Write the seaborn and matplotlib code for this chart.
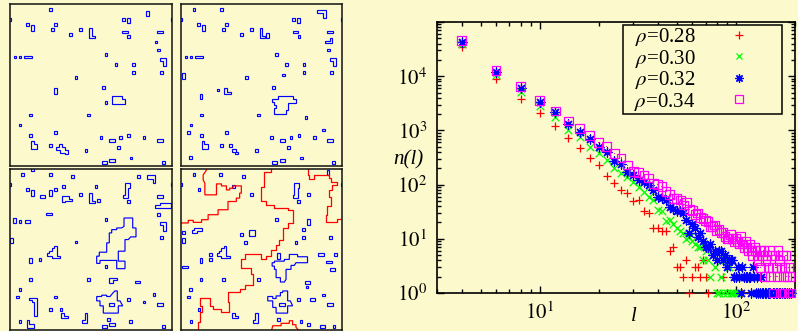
import numpy as np
import matplotlib
matplotlib.use("Agg")
import matplotlib.pyplot as plt
import seaborn as sns
from matplotlib.patches import Rectangle, Polygon
from matplotlib.lines import Line2D
from matplotlib.ticker import LogLocator, FuncFormatter, NullFormatter

BG = '#fcfacd'
BLUE = '#0000ff'
RED = '#ff0000'

# ---------------- n(l) data ----------------
l_028 = [4, 6, 8, 10, 12, 14, 16, 18, 20, 22, 24, 26, 28, 30, 32, 34, 36, 38, 40, 42, 44,
         46, 48, 50, 52, 54, 56, 58, 60, 62, 64, 66, 68, 70, 72, 86, 108]
n_028 = [34000, 8700, 3800, 2070, 1200, 730, 470, 310, 230, 145, 105, 81, 71, 50, 52, 32, 30, 16, 16, 14, 14,
         6, 7, 3, 3, 2, 4, 1, 2, 3, 3, 2, 4, 2, 1, 2, 1]

l_030 = [4, 6, 8, 10, 12, 14, 16, 18, 20, 22, 24, 26, 28, 30, 32, 34, 36, 38, 40, 42, 44, 46, 48, 50,
         52, 54, 56, 58, 60, 62, 64, 66, 68, 70, 72, 74, 76, 78, 80, 82, 84, 86, 88, 90, 92, 94, 96, 98,
         100, 102]
n_030 = [38900, 10500, 5180, 2820, 1790, 1020, 766, 500, 378, 284, 204, 162, 140, 112, 91, 74, 60, 52, 34,
         32, 21, 22, 19, 16, 14, 13, 10, 11, 9, 8, 7, 7, 4, 6, 4, 2, 5, 3, 1, 1, 2, 1, 4, 1, 3, 1, 1, 1,
         1, 1]

l_032 = [4, 6, 8, 10, 12, 14, 16, 18, 20, 22, 24, 26, 28, 30, 32, 34, 36, 38, 40, 42, 44, 46, 48, 50,
         52, 54, 56, 58, 60, 62, 64, 66, 68, 70, 72, 74, 76, 78, 80, 82, 84, 86, 88, 90, 92, 94, 96, 98,
         100, 102, 104, 106, 108, 110, 112, 114, 116, 118, 120, 122, 124, 126, 128, 130, 132, 134, 136,
         138, 140, 142, 146, 148, 150, 154, 156, 160, 162, 166, 168, 172, 176, 178, 182, 186, 190]
n_032 = [43600, 12000, 5980, 3300, 2160, 1310, 946, 708, 500, 407, 275, 245, 174, 151, 120, 112, 98, 79,
         60, 56, 52, 39, 35, 32, 33, 30, 22, 13, 19, 16, 11, 13, 9, 7, 7, 8, 5, 6, 4, 6, 6, 4, 5, 3, 4,
         4, 4, 2, 2, 3, 2, 1, 3, 2, 2, 2, 2, 2, 1, 3, 2, 1, 2, 1, 1, 2, 1, 1, 1, 1, 1, 1, 1, 1, 1, 1, 1,
         1, 1, 1, 1, 1, 1, 1, 1]

l_034 = [4, 6, 8, 10, 12, 14, 16, 18, 20, 22, 24, 26, 28, 30, 32, 34, 36, 38, 40, 42, 44, 46, 48, 50,
         52, 54, 56, 58, 60, 62, 64, 66, 68, 70, 72, 74, 76, 78, 80, 82, 84, 86, 88, 90, 92, 94, 96, 98,
         100, 102, 104, 106, 108, 110, 112, 114, 116, 118, 120, 122, 124, 126, 128, 130, 132, 134, 136,
         138, 140, 142, 144, 146, 148, 150, 152, 154, 156, 158, 160, 162, 164, 166, 168, 170, 172, 174,
         176, 178, 180, 182, 184, 186, 188, 190]
n_034 = [45200, 12600, 6400, 3530, 2280, 1490, 1070, 800, 600, 500, 380, 310, 229, 174, 166, 151, 132,
         105, 100, 91, 74, 65, 56, 55, 52, 42, 46, 35, 33, 28, 30, 25, 24, 22, 21, 17, 17, 18, 14, 15,
         13, 13, 11, 10, 10, 12, 10, 9, 10, 9, 8, 11, 8, 7, 9, 7, 6, 8, 6, 5, 7, 6, 5, 4, 6, 3, 5, 6, 2,
         4, 5, 3, 6, 2, 5, 3, 1, 5, 3, 2, 6, 4, 1, 3, 5, 2, 1, 3, 5, 2, 1, 3, 2, 1]

rho_labels = [r'$\;\;\,\rho$=0.28', r'$\;\;\,\rho$=0.30', r'$\;\;\,\rho$=0.32', r'$\;\;\,\rho$=0.34']

# ---------------- cluster snapshots (panel pixel units, y down) ----------------
# blocks: (centre x, centre y, cells wide, cells high)
blocks_1 = [(40.7, 5.3, 1, 1), (137.7, 9.3, 1, 2), (0, 15.3, 1, 1), (113.3, 15.3, 1, 1), (118.3, 16.7, 1, 2),
            (162, 15.3, 1, 1), (17.7, 20.3, 1, 1), (45.7, 20.3, 1, 1), (22.7, 24, 1, 2), (42.7, 25.7, 1, 1),
            (70.7, 25.7, 1, 1), (60.7, 30.7, 1, 1), (115, 28, 2, 1), (150, 28, 2, 1), (118.7, 32.7, 1, 1),
            (146, 38, 1, 1), (148.7, 46, 1, 1), (96, 50.7, 1, 1), (5, 53, 1, 1), (10, 53, 1, 1),
            (17.7, 53, 3, 1), (106, 60.7, 1, 1), (123.7, 60.7, 1, 1), (123.7, 68.3, 1, 1),
            (151.3, 68.3, 1, 1), (66, 73.3, 1, 1), (45.7, 87, 1, 2), (93.3, 83.3, 1, 1), (96, 98.7, 1, 1),
            (20.3, 111, 1, 1), (78.3, 111, 1, 1), (10, 121, 1, 1), (20.3, 131.3, 1, 1), (45.7, 128.7, 1, 1),
            (91, 133.7, 1, 1), (102, 136.3, 2, 1), (110.7, 133.7, 1, 1), (118.7, 131.3, 1, 1),
            (134, 133.7, 1, 1), (150, 136.3, 2, 1), (40.7, 141.3, 1, 1), (76, 146.3, 1, 1),
            (108.3, 143.7, 1, 1), (121, 154, 1, 1), (94.3, 158.7, 2, 1), (102, 156.7, 2, 1),
            (153.7, 158.7, 1, 1)]
polys_1 = [
    [(79.3, 24.3), (81.7, 24.3), (81.7, 31.7), (85, 31.7), (85, 34.3), (79.3, 34.3)],
    [(150, 54.3), (155.7, 54.3), (155.7, 62), (153, 62), (153, 57), (150, 57)],
    [(101.7, 92), (111.7, 92), (111.7, 95.3), (115, 95.3), (115, 100), (101.7, 100)],
    [(21, 137), (23.5, 137), (23.5, 140), (26.7, 140), (26.7, 145.3), (21, 145.3)],
    [(49.3, 140), (52.3, 140), (52.3, 142.7), (55, 142.7), (55, 146), (57.7, 146), (57.7, 150.3),
     (54.7, 150.3), (54.7, 148.5), (50, 148.5), (50, 146), (46, 146), (46, 142.7), (49.3, 142.7)],
]

blocks_2 = [(13, 5.3, 1, 1), (40.7, 5.3, 1, 1), (0, 15.3, 1, 1), (113.3, 15.3, 1, 1), (118.3, 16.7, 1, 2),
            (162, 15.3, 1, 1), (17.7, 20.3, 1, 1), (45.7, 20.3, 1, 1), (22.7, 24, 1, 2), (42.7, 25.7, 1, 1),
            (70.7, 25.7, 1, 1), (60.7, 30.7, 1, 1), (86.7, 31.7, 1, 2), (115, 28, 2, 1), (150, 28, 2, 1),
            (118.7, 32.7, 1, 1), (148.7, 46, 1, 1), (96, 50.7, 1, 1), (5, 53, 1, 1), (10, 53, 1, 1),
            (17.7, 53, 3, 1), (106, 60.7, 1, 1), (123.7, 60.7, 1, 1), (123.7, 68.3, 1, 1),
            (151.3, 68.3, 1, 1), (66, 73.3, 1, 1), (103.3, 71, 1, 1), (2.3, 72, 1, 2), (37.3, 86, 1, 1),
            (93.3, 83.3, 1, 1), (20, 92.7, 1, 2), (20.3, 111, 1, 1), (78.3, 111, 1, 1), (125.7, 113.3, 1, 1),
            (10, 121, 1, 1), (143.3, 126, 1, 1), (7.3, 128.7, 1, 1), (20.3, 131.3, 1, 1), (45.7, 128.7, 1, 1),
            (91, 133.7, 1, 1), (102, 136.3, 2, 1), (110.7, 133.7, 1, 1), (118.7, 131.3, 1, 1),
            (134, 133.7, 1, 1), (150, 136.3, 2, 1), (40.7, 141.3, 1, 1), (50, 141.3, 1, 1), (76, 146.3, 1, 1),
            (108.3, 143.7, 1, 1), (121, 154, 1, 1), (9.7, 153.3, 1, 1), (94.3, 158.7, 2, 1),
            (102, 156.7, 2, 1), (153.7, 158.7, 1, 1)]
polys_2 = [
    [(137.3, 6), (145.7, 6), (145.7, 14.3), (143, 14.3), (143, 9.3), (137.3, 9.3)],
    [(79.3, 24.3), (81.7, 24.3), (81.7, 31.7), (85, 31.7), (85, 34.3), (79.3, 34.3)],
    [(149.7, 34.3), (152.3, 34.3), (152.3, 39.3), (144.7, 39.3), (144.7, 36.7), (149.7, 36.7)],
    [(150, 54.3), (155.7, 54.3), (155.7, 62), (153, 62), (153, 57), (150, 57)],
    [(43.3, 83.7), (46, 83.7), (46, 87.7), (50, 87.7), (50, 90.3), (43.3, 90.3)],
    [(97.3, 92), (112.3, 92), (112.3, 95.3), (115.7, 95.3), (115.7, 99.3), (107.3, 99.3), (107.3, 106),
     (105.7, 106), (105.7, 110.3), (94, 110.3), (94, 104.3), (95.7, 104.3), (95.7, 101), (93.3, 101),
     (93.3, 97.7), (91.7, 97.7), (91.7, 95.3), (97.3, 95.3)],
    [(21, 137), (23.5, 137), (23.5, 140), (26.7, 140), (26.7, 145.3), (21, 145.3)],
    [(51.3, 145), (55, 145), (55, 147.7), (57.3, 147.7), (57.3, 150.3), (54, 150.3), (54, 147.7),
     (51.3, 147.7)],
]

blocks_3 = [(12.7, 5.3, 1, 1), (22.7, 0.5, 1, 1), (40.7, 5.3, 1, 1), (62.7, 7.7, 1, 1), (128.3, 7.7, 1, 1),
            (0, 15.3, 1, 1), (162, 15.3, 1, 1), (17.7, 20.3, 1, 1), (22.7, 24.3, 1, 2), (32.7, 27.7, 2, 1),
            (40.7, 24.3, 1, 2), (45.7, 20.3, 1, 1), (53.3, 17.7, 1, 1), (70.7, 25.7, 1, 1), (86, 17.7, 1, 1),
            (88.3, 31.7, 1, 1), (118.7, 33, 1, 1), (150, 27.7, 2, 1), (148.7, 46, 1, 1), (39, 45.3, 2, 1),
            (4.3, 52, 1, 2), (10, 53, 1, 1), (17.7, 53, 2, 1), (96, 51, 1, 1), (151.3, 68.7, 1, 1),
            (66, 73.3, 1, 1), (1.5, 72, 1, 2), (20.3, 92, 1, 2), (30, 91, 1, 1), (96, 98.3, 1, 1),
            (20.3, 111, 1, 1), (78.3, 111, 1, 1), (127.3, 113.7, 2, 1), (10, 121, 1, 1), (7.7, 128.7, 1, 1),
            (45.7, 128.7, 1, 1), (118.7, 131, 1, 1), (134, 133.7, 1, 1), (144, 126.3, 1, 1),
            (150, 136.3, 2, 1), (40.7, 141.3, 1, 1), (51, 141.7, 1, 1), (10, 153.7, 1, 1),
            (94.3, 158.7, 2, 1), (102, 156.7, 2, 1), (120.7, 153.7, 1, 1), (153.7, 158.7, 1, 1),
            (98.3, 151.7, 1, 1), (101.7, 136, 2, 1)]
polys_3 = [
    [(136.7, 6), (145.3, 6), (145.3, 14.3), (142.7, 14.3), (142.7, 10), (136.7, 10)],
    [(51.7, 26.7), (59.3, 26.7), (59.3, 30.3), (61.7, 30.3), (61.7, 31.7), (55, 31.7), (55, 33.7),
     (51.7, 33.7)],
    [(115, 14.3), (120, 14.3), (120, 19.3), (118.3, 19.3), (118.3, 29.3), (112.7, 29.3), (112.7, 26),
     (115, 26)],
    [(79.3, 24.3), (81.7, 24.3), (81.7, 31.7), (85, 31.7), (85, 34.3), (79.3, 34.3)],
    [(150, 34.3), (160.7, 34.3), (160.7, 39.3), (145, 39.3), (145, 36.7), (150, 36.7)],
    [(150, 53.7), (155.7, 53.7), (155.7, 62), (153, 62), (153, 56.5), (150, 56.5)],
    [(114, 49.3), (122.7, 49.3), (122.7, 59.3), (126, 59.3), (126, 68.3), (120.7, 68.3), (118.3, 71),
     (115, 71), (115, 82.7), (108.3, 82.7), (108.3, 92.7), (115, 92.7), (115, 100.3), (106.7, 100.3),
     (106.7, 92), (90, 92), (90, 95), (86.7, 95), (86.7, 87.7), (89.3, 87.7), (89.3, 83.7), (96.7, 83.7),
     (96.7, 74.3), (99.3, 74.3), (99.3, 64.3), (101.7, 64.3), (101.7, 61), (106.7, 61), (106.7, 59.3),
     (111.7, 59.3), (114, 57.7)],
    [(44.3, 77), (46.7, 77), (46.7, 87.7), (50, 87.7), (50, 90), (41.7, 90), (41.7, 87.7), (36.7, 87.7),
     (36.7, 85), (39.3, 85), (39.3, 82.7), (41.7, 82.7), (41.7, 79.3), (44.3, 79.3)],
    [(99.3, 109.3), (107.3, 109.3), (107.3, 112), (103.3, 112), (103.3, 115), (99.3, 115)],
    [(19.3, 129.3), (26.7, 129.3), (26.7, 147.7), (24.3, 147.7), (24.3, 134.3), (22, 134.3), (22, 132),
     (19.3, 132)],
    [(86.7, 128.3), (91.7, 128.3), (91.7, 127), (96.7, 127), (96.7, 128.3), (100, 128.3), (103.3, 124.3),
     (105, 122.7), (107.3, 122.7), (107.3, 132.7), (110, 132.7), (112.7, 137.7), (108.3, 137.7),
     (108.3, 145), (93.3, 145), (93.3, 137.7), (90, 137.7), (90, 132.7), (86.7, 132.7)],
    [(75, 145), (77.3, 145), (77.3, 155.3), (71.7, 155.3), (71.7, 152), (75, 152)],
    [(16.7, 152), (19.3, 152), (19.3, 156), (24.3, 156), (24.3, 160.3), (16.7, 160.3)],
    [(51, 145), (54, 145), (54, 147.7), (57.7, 147.7), (57.7, 150.3), (51, 150.3)],
]

blocks_4 = [(13, 5.3, 1, 1), (40, 5.3, 1, 1), (63, 7.7, 1, 1), (148, 3.3, 1, 2), (0, 15.3, 1, 1),
            (162, 15.3, 1, 1), (18, 20.3, 1, 1), (52.7, 17.7, 1, 1), (70.7, 25.7, 1, 1), (118, 33, 1, 1),
            (128.3, 25.7, 1, 1), (96, 51, 1, 1), (128.3, 53.3, 1, 2), (123.3, 61, 1, 1), (2.3, 63.7, 1, 1),
            (2.3, 72, 1, 2), (60.7, 66, 1, 1), (71.5, 64.5, 2, 2), (65, 73.7, 1, 1), (115.7, 73.7, 1, 1),
            (123.3, 68.7, 1, 1), (150.7, 68.7, 1, 1), (30, 86, 1, 1), (30, 91, 1, 1), (20, 92, 1, 2),
            (4, 98.7, 2, 1), (98, 87.7, 1, 2), (140.7, 86, 2, 1), (155.7, 86, 1, 1), (149, 93.7, 2, 1),
            (152.3, 101, 2, 1), (20, 111, 1, 1), (43, 111, 1, 1), (78, 111, 1, 1), (127.3, 114.3, 2, 1),
            (126.7, 118.7, 1, 1), (9.7, 121, 1, 1), (7.3, 128.7, 1, 1), (118.3, 131, 1, 1),
            (132.3, 131, 2, 1), (143.3, 126.7, 1, 1), (150, 136.3, 2, 1), (18, 141.7, 1, 1),
            (10, 153.7, 1, 1), (98.3, 151.7, 1, 1), (120.7, 153.7, 1, 1), (128.3, 156.7, 1, 1),
            (142.3, 158.7, 2, 1), (154, 158.7, 1, 1), (101.7, 136, 2, 1)]
polys_4 = [
    [(109, 86), (117.3, 86), (117.3, 88.3), (127.3, 88.3), (127.3, 94.3), (115.7, 94.3), (114, 97),
     (110.7, 97), (110.7, 101), (105.7, 101), (105.7, 111), (104, 113.7), (100, 113.7), (100, 109.3),
     (95.7, 109.3), (95.7, 101), (94, 101), (94, 97.7), (91.7, 97.7), (91.7, 94.3), (94, 94.3),
     (94, 92.7), (104, 92.7), (104, 91), (109, 91)],
    [(87.3, 128.3), (92.3, 128.3), (92.3, 130.3), (95.7, 130.3), (95.7, 127.7), (100, 127.7),
     (100, 124.3), (102.3, 124.3), (102.3, 122.7), (107.3, 122.7), (107.3, 132.7), (110, 132.7),
     (112.3, 137.7), (107.3, 137.7), (107.3, 145), (95.7, 145), (95.7, 139.3), (92.3, 139.3),
     (92.3, 132.7), (87.3, 132.7)],
    [(113.7, 14.3), (119, 14.3), (119, 19.3), (117.3, 19.3), (117.3, 29.3), (112.3, 29.3), (112.3, 26),
     (113.7, 26)],
    [(43.3, 77), (45.7, 77), (45.7, 87.7), (49, 87.7), (49, 90), (40.7, 90), (40.7, 87.7), (36.7, 87.7),
     (36.7, 85), (38.3, 85), (38.3, 82.7), (40.7, 82.7), (40.7, 79.3), (43.3, 79.3)],
    [(13.3, 59.3), (21.3, 59.3), (21.3, 62), (16, 62), (16, 64.3), (10.7, 64.3), (10.7, 61.7),
     (13.3, 61.7)],
    [(74.7, 145), (77.3, 145), (77.3, 155.3), (72.3, 155.3), (72.3, 152), (74.7, 152)],
    [(51.7, 145), (54.3, 145), (54.3, 147.7), (57.7, 147.7), (57.7, 150.3), (51.7, 150.3)],
]
# hull of the spanning cluster (red), panel 4 only
hulls_4 = [
    [(25.7, 0), (25.7, 1), (22.3, 6), (22.3, 11), (24, 14.3), (24, 26), (35.7, 26), (35.7, 15), (40.7, 15),
     (40.7, 17), (45.7, 17), (45.7, 21), (49, 21), (49, 19.3), (52.3, 19.3), (52.3, 17), (60.7, 17),
     (60.7, 24.3), (59, 24.3), (59, 29.3), (55.7, 29.3), (55.7, 32.7), (47.3, 32.7), (47.3, 41),
     (37.3, 41), (37.3, 46), (27.3, 46), (27.3, 51), (20.7, 51), (20.7, 53.7), (12.3, 53.7), (12.3, 51.7),
     (7.3, 51.7), (7.3, 54.3), (0, 54.3)],
    [(90.7, 0), (90.7, 2.7), (84, 2.7), (84, 17.7), (80.7, 17.7), (80.7, 32.7), (85.7, 32.7), (85.7, 36),
     (94, 36), (94, 39.3), (107.3, 39.3), (107.3, 41.7), (112.3, 41.7), (112.3, 54.3), (107.3, 54.3),
     (107.3, 59.3), (102.3, 59.3), (102.3, 71), (99, 71), (99, 76), (95.7, 76), (95.7, 81), (90.7, 81),
     (90.7, 87.7), (85.7, 87.7), (85.7, 90.3), (80, 90.3), (80, 86), (64, 86), (64, 91), (60, 91),
     (60, 99.3), (70.7, 99.3), (70.7, 106), (72.3, 106), (72.3, 117), (64, 117), (64, 121), (59, 121),
     (59, 123.7), (47.3, 123.7), (47.3, 134.3), (48, 134.3), (48, 144.3), (40.7, 144.3), (40.7, 141),
     (32.3, 141), (32.3, 137.7), (29, 137.7), (29, 130.3), (19, 130.3), (19, 137.7), (20.7, 137.7),
     (20.7, 144.3), (19, 144.3), (19, 154.3), (17.3, 154.3), (17.3, 162)],
    [(127.3, 0), (127.3, 6), (129, 6), (129, 10.3), (134, 10.3), (134, 6), (149, 6), (149, 9.3),
     (151.3, 9.3), (151.3, 12.7), (157.3, 12.7), (157.3, 16), (152.3, 16), (152.3, 21), (149, 21),
     (149, 27.7), (150.7, 27.7), (150.7, 37.7), (147.3, 37.7), (147.3, 46), (146, 46), (146, 53.7),
     (157.3, 53.7), (157.3, 50.3), (162, 50.3)],
    [(91.3, 162), (92.3, 157.7), (100.7, 157.7), (100.7, 155.3), (109, 155.3), (109, 152.7),
     (112.3, 152.7), (112.3, 156.7), (115.7, 156.7), (115.7, 159.3), (118, 162)],
]

plt.rcParams['font.family'] = 'serif'
plt.rcParams['font.serif'] = ['Liberation Serif', 'DejaVu Serif']
plt.rcParams['mathtext.fontset'] = 'stix'

W, H = 798, 331
fig = plt.figure(figsize=(W / 100, H / 100), dpi=100, facecolor=BG)

CELL = 2.7
panel_boxes = [(10, 4, 162, 162), (181, 4, 161, 162), (10, 169, 162, 161), (181, 169, 161, 161)]
panel_data = [(blocks_1, polys_1, []), (blocks_2, polys_2, []),
              (blocks_3, polys_3, []), (blocks_4, polys_4, hulls_4)]

for (px, py, pw, ph), (blocks, polys, hulls) in zip(panel_boxes, panel_data):
    pax = fig.add_axes([px / W, 1 - (py + ph) / H, pw / W, ph / H])
    pax.set_facecolor('none')
    pax.set_xlim(0, 162)
    pax.set_ylim(162, 0)
    pax.set_xticks([])
    pax.set_yticks([])
    for s in pax.spines.values():
        s.set_linewidth(1.1)
        s.set_color('#111111')
    for cx, cy, nx, ny in blocks:
        pax.add_patch(Rectangle((cx - nx * CELL / 2, cy - ny * CELL / 2), nx * CELL, ny * CELL,
                                fill=False, ec=BLUE, lw=0.85))
    for pts in polys:
        pax.add_patch(Polygon(pts, closed=True, fill=False, ec=BLUE, lw=0.85))
    for pts in hulls:
        xs, ys = zip(*pts)
        pax.plot(xs, ys, color=RED, lw=0.9)

# ---------------- n(l) log-log plot ----------------
ax = fig.add_axes([437 / W, 1 - 293 / H, (795 - 437) / W, (293 - 22) / H])
ax.set_facecolor('none')

series = [
    (l_028, n_028, dict(marker='+', color=RED, edgecolor=RED, s=30, linewidth=0.9)),
    (l_030, n_030, dict(marker='x', color='#00ff00', edgecolor='#00ff00', s=30, linewidth=0.9)),
    (l_032, n_032, dict(marker=(8, 2, 0), color=BLUE, edgecolor=BLUE, s=42, linewidth=0.9)),
    (l_034, n_034, dict(marker='s', color='#ff00ff', facecolor='none', edgecolor='#ff00ff', s=40,
                        linewidth=0.9)),
]
for lv, nv, kw in series:
    sns.scatterplot(x=lv, y=nv, ax=ax, legend=False, clip_on=False, zorder=3, **kw)
sns.scatterplot(x=l_034, y=n_034, ax=ax, legend=False, clip_on=False, zorder=3,
                marker='s', color='#ff00ff', edgecolor='none', s=0.6)

ax.set_xscale('log')
ax.set_yscale('log')
ax.set_xlim(3, 200)
ax.set_ylim(1, 1e5)

# gnuplot left the top decade unlabelled
fmt = FuncFormatter(lambda v, p: '' if v > 5e4 else r'$10^{%d}$' % int(round(np.log10(v))))
for axis in (ax.xaxis, ax.yaxis):
    axis.set_major_locator(LogLocator(base=10, numticks=12))
    axis.set_minor_locator(LogLocator(base=10, subs=np.arange(2, 10), numticks=12))
    axis.set_major_formatter(fmt)
    axis.set_minor_formatter(NullFormatter())

ax.tick_params(which='both', direction='in', top=True, right=True, width=1.0, labelsize=15)
ax.tick_params(which='major', length=5)
ax.tick_params(which='minor', length=3)
ax.tick_params(axis='x', pad=7)
ax.tick_params(axis='y', pad=7)
for s in ax.spines.values():
    s.set_linewidth(1.2)

ax.set_xlabel('l', fontstyle='italic', fontsize=15, va='center')
ax.xaxis.set_label_coords(0.55, -0.085)
ax.set_ylabel('n(l)', fontstyle='italic', fontsize=15, rotation=0, ha='center', va='center')
ax.yaxis.set_label_coords(-0.081, 0.49)

handles = [
    Line2D([], [], ls='none', marker='+', color=RED, markersize=5.5, mew=0.9),
    Line2D([], [], ls='none', marker='x', color='#00ff00', markersize=5, mew=0.9),
    Line2D([], [], ls='none', marker=(8, 2, 0), color=BLUE, markersize=6, mew=0.9),
    Line2D([], [], ls='none', marker='s', color='#ff00ff', mfc='none', markersize=6, mew=0.9),
]
leg = ax.legend(handles, rho_labels, loc='upper right', bbox_to_anchor=(0.964, 0.989),
                borderaxespad=0, markerfirst=False, fontsize=15, frameon=True, fancybox=False,
                edgecolor='black', facecolor=BG, framealpha=1, borderpad=0.05, labelspacing=-0.02,
                handlelength=4.0, handletextpad=0.1)
leg.get_frame().set_linewidth(1.1)

fig.savefig('out.png', dpi=100, facecolor=BG)
